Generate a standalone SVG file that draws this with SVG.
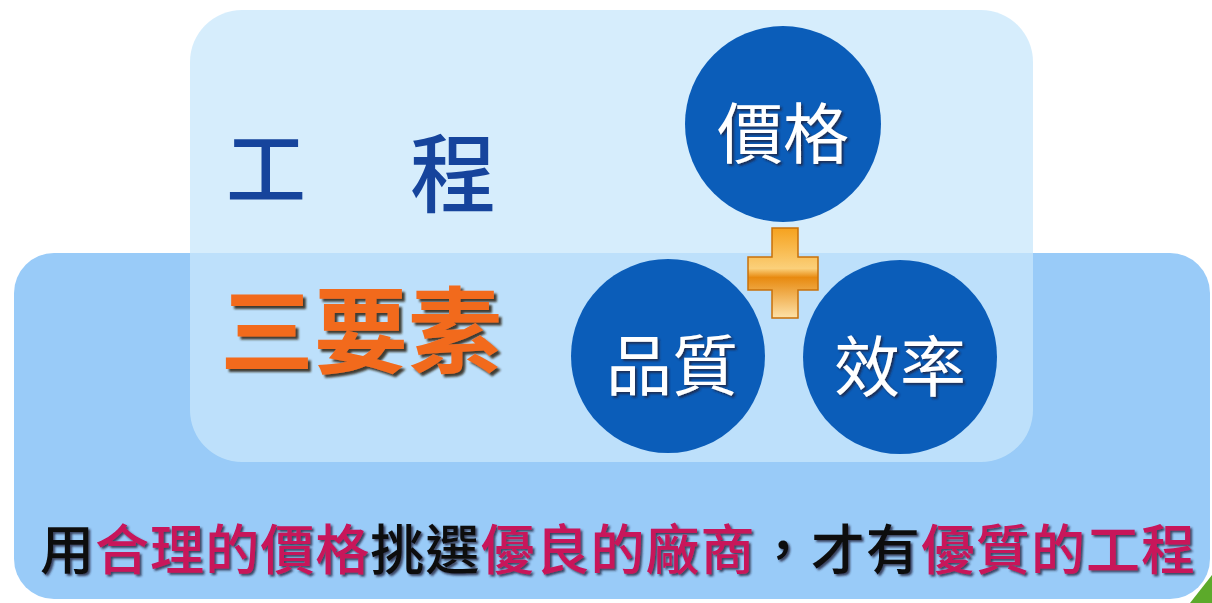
<svg xmlns="http://www.w3.org/2000/svg" width="1212" height="603" viewBox="0 0 1212 603">
<defs>
<style>
.cjk{font-family:"Noto Sans CJK TC","Noto Sans CJK SC",sans-serif;}
.circ{fill:#0b5db9;}
.ctext{fill:#ffffff;font-size:66px;font-weight:400;}
.foot{font-size:54px;font-weight:500;}
.red{fill:#c8125a;}
.blk{fill:#111111;}
</style>
<filter id="sh" x="-10%" y="-10%" width="130%" height="130%">
<feDropShadow dx="3" dy="3" stdDeviation="1" flood-color="#2a1a10" flood-opacity="0.85"/>
</filter>
<filter id="shs" x="-10%" y="-10%" width="130%" height="130%">
<feDropShadow dx="2" dy="2" stdDeviation="0.8" flood-color="#20203a" flood-opacity="0.8"/>
</filter>
<linearGradient id="plusg" x1="0" y1="0" x2="0" y2="1">
<stop offset="0" stop-color="#f6a21e"/>
<stop offset="0.45" stop-color="#fbd07a"/>
<stop offset="0.55" stop-color="#e88a10"/>
<stop offset="1" stop-color="#fde2a8"/>
</linearGradient>
</defs>
<rect width="1212" height="603" fill="#ffffff"/>
<path d="M1190 603 L1212 575 L1212 603 Z" fill="#5caa2a"/>
<g id="bottom-panel">
<rect x="14" y="253" width="1196" height="346" rx="40" fill="#99cbf8"/>
</g>
<g id="top-panel">
<rect x="190" y="10" width="843" height="452" rx="52" fill="#c9e7fb" fill-opacity="0.755"/>
</g>
<g id="title">
<text class="cjk" x="226" y="198" font-size="80" font-weight="500" fill="#16449c">工</text>
<text class="cjk" x="410" y="206" font-size="86" font-weight="500" fill="#16449c">程</text>
<text class="cjk" x="220" y="366" font-size="94" font-weight="700" fill="#f26b1d" filter="url(#sh)" letter-spacing="0">三要素</text>
</g>
<g id="node-price">
<circle class="circ" cx="783" cy="124" r="98"/>
<text class="cjk ctext" x="783" y="158" text-anchor="middle" filter="url(#shs)">價格</text>
</g>
<g id="node-quality">
<circle class="circ" cx="668" cy="356" r="97"/>
<text class="cjk ctext" x="672" y="390" text-anchor="middle" filter="url(#shs)">品質</text>
</g>
<g id="node-efficiency">
<circle class="circ" cx="900" cy="357" r="97"/>
<text class="cjk ctext" x="900" y="391" text-anchor="middle" filter="url(#shs)">效率</text>
</g>
<g id="connectors">
<path d="M772 228 H798 V257 H818 V290 H798 V318 H772 V290 H748 V257 H772 Z" fill="url(#plusg)" stroke="#c8700a" stroke-width="1.5"/>
</g>
<g id="footer">
<text class="cjk foot" x="40" y="570" textLength="1155" lengthAdjust="spacing" filter="url(#shs)"><tspan class="blk">用</tspan><tspan class="red">合理的價格</tspan><tspan class="blk">挑選</tspan><tspan class="red">優良的廠商</tspan><tspan class="blk">，才有</tspan><tspan class="red">優質的工程</tspan></text>
</g>
</svg>
